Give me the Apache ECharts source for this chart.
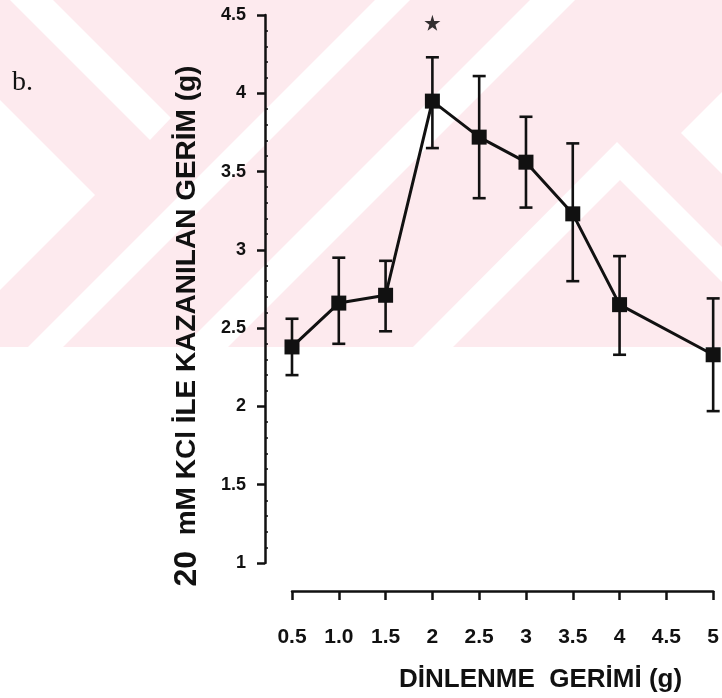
<!DOCTYPE html>
<html>
<head>
<meta charset="utf-8">
<script src="https://cdn.jsdelivr.net/npm/echarts@6/dist/echarts.min.js"></script>
<style>
html,body{margin:0;padding:0;background:#fff;}
#chart{width:722px;height:698px;}
</style>
</head>
<body>
<div id="chart"></div>
<script>
// ---- data ----
const xValues  = [0.5, 1.0, 1.5, 2, 2.5, 3, 3.5, 4, 5];
const means    = [2.38, 2.66, 2.71, 3.95, 3.72, 3.56, 3.23, 2.65, 2.33];
const errUpper = [2.56, 2.95, 2.93, 4.23, 4.11, 3.85, 3.68, 2.96, 2.69];
const errLower = [2.20, 2.40, 2.48, 3.65, 3.33, 3.27, 2.80, 2.33, 1.97];
const xTicks      = [0.5, 1, 1.5, 2, 2.5, 3, 3.5, 4, 4.5, 5];
const xTickLabels = ['0.5', '1.0', '1.5', '2', '2.5', '3', '3.5', '4', '4.5', '5'];
const yTicks      = [1, 1.5, 2, 2.5, 3, 3.5, 4, 4.5];
const yTickLabels = ['1', '1.5', '2', '2.5', '3', '3.5', '4', '4.5'];
const starMarks   = [[2, 4.45]];
const xTitle = 'DİNLENME  GERİMİ (g)';
const yTitle = '{n|20}  mM KCl İLE KAZANILAN GERİM (g)';
const panelLabel = 'b.';

const ink = '#111';
const pink = '#fdeaee';
const FONT = '"Liberation Sans", Arial, Helvetica, sans-serif';

function lookup(ticks, labels, v) {
  for (let i = 0; i < ticks.length; i++) if (Math.abs(ticks[i] - v) < 1e-6) return labels[i];
  return '';
}

// decorative watermark background (pink band with white chevron stripes)
const W = 722, BAND = 347;
const whitePolys = [
  [[10,0],[53,0],[171,118],[150,140]],
  [[0,100],[95,195],[0,290]],
  [[375,0],[410,0],[63,BAND],[28,BAND]],
  [[530,0],[575,0],[228,BAND],[183,BAND]],
  [[413,BAND],[617,142],[722,247],[722,282],[620,180],[453,BAND]],
  [[681,133],[722,92],[722,174]]
];
const graphics = [
  {type:'rect', z:-100, silent:true, shape:{x:0,y:0,width:W,height:BAND}, style:{fill:pink}}
].concat(whitePolys.map(p => ({type:'polygon', z:-99, silent:true, shape:{points:p}, style:{fill:'#fff'}})))
 .concat([{type:'text', left:12, top:69, z:10, style:{text:panelLabel, font:'28px "Liberation Serif", "Times New Roman", serif', fill:ink}}]);

const chart = echarts.init(document.getElementById('chart'), null, {renderer:'canvas'});
const starPath = 'path://M50,0 L61,35 L98,35 L68,57 L79,91 L50,70 L21,91 L32,57 L2,35 L39,35 Z';

chart.setOption({
  animation: false,
  backgroundColor: '#fff',
  graphic: graphics,
  grid: {left: 292, right: 5, top: 15, bottom: 133, containLabel: false},
  xAxis: {
    type: 'value', min: 0.5, max: 5, interval: 0.5,
    offset: 28,
    splitLine: {show:false},
    axisLine: {show:true, lineStyle:{color:ink, width:2.5}},
    axisTick: {show:true, length:9, lineStyle:{color:ink, width:2.5}},
    axisLabel: {margin: 36, color: ink, fontFamily: FONT, fontWeight: 'bold', fontSize: 21,
      formatter: v => lookup(xTicks, xTickLabels, v), showMinLabel:true, showMaxLabel:true},
    name: xTitle, nameLocation: 'middle', nameGap: 76,
    nameTextStyle: {color: ink, fontFamily: FONT, fontWeight: 'bold', fontSize: 26, padding:[0,0,0,76]}
  },
  yAxis: [{
    type: 'value', min: 1, max: 4.5, interval: 0.5,
    offset: 27,
    splitLine: {show:false},
    axisLine: {show:true, lineStyle:{color:ink, width:2.5}},
    axisTick: {show:true, length:8, lineStyle:{color:ink, width:2.5}},
    axisLabel: {margin: 19, color: ink, fontFamily: FONT, fontWeight: 'bold', fontSize: 18,
      formatter: v => lookup(yTicks, yTickLabels, v)},
    name: yTitle, nameLocation: 'middle', nameGap: 62, nameRotate: 90,
    nameTextStyle: {color: ink, fontFamily: FONT, fontWeight: 'bold', fontSize: 28, padding:[0,74,0,0],
      rich: {n: {fontFamily: FONT, fontWeight: 'bold', fontSize: 32, color: ink}}}
  }, {
    type: 'value', min: 1, max: 4.5, interval: 0.5, position: 'left',
    offset: 27,
    splitLine: {show:false},
    axisLine: {show:false},
    axisTick: {show:false, inside:true},
    minorTick: {show:true, splitNumber:5, length:3, lineStyle:{color:ink, width:1.5}},
    axisLabel: {show:false}
  }],
  series: [
    {
      type: 'custom',
      name: 'SEM',
      z: 3,
      data: xValues.map((x, i) => [x, errLower[i], errUpper[i]]),
      encode: {x: 0, y: [1, 2]},
      renderItem: function (params, api) {
        const x = api.value(0);
        const lo = api.coord([x, api.value(1)]);
        const hi = api.coord([x, api.value(2)]);
        const half = 6.5;
        const st = {stroke: ink, lineWidth: 2.6};
        return {type: 'group', children: [
          {type:'line', shape:{x1:lo[0], y1:lo[1], x2:hi[0], y2:hi[1]}, style: st},
          {type:'line', shape:{x1:hi[0]-half, y1:hi[1], x2:hi[0]+half, y2:hi[1]}, style: st},
          {type:'line', shape:{x1:lo[0]-half, y1:lo[1], x2:lo[0]+half, y2:lo[1]}, style: st}
        ]};
      }
    },
    {
      type: 'line',
      name: 'Ortalama',
      z: 4,
      clip: false,
      data: xValues.map((x, i) => [x, means[i]]),
      symbol: 'rect', symbolSize: 15, showAllSymbol: true,
      lineStyle: {color: ink, width: 3},
      itemStyle: {color: ink}
    },
    {
      type: 'scatter',
      name: 'p<0.05',
      z: 5,
      data: starMarks,
      symbol: starPath, symbolSize: 16,
      itemStyle: {color: '#000'}
    }
  ]
});
</script>
</body>
</html>
